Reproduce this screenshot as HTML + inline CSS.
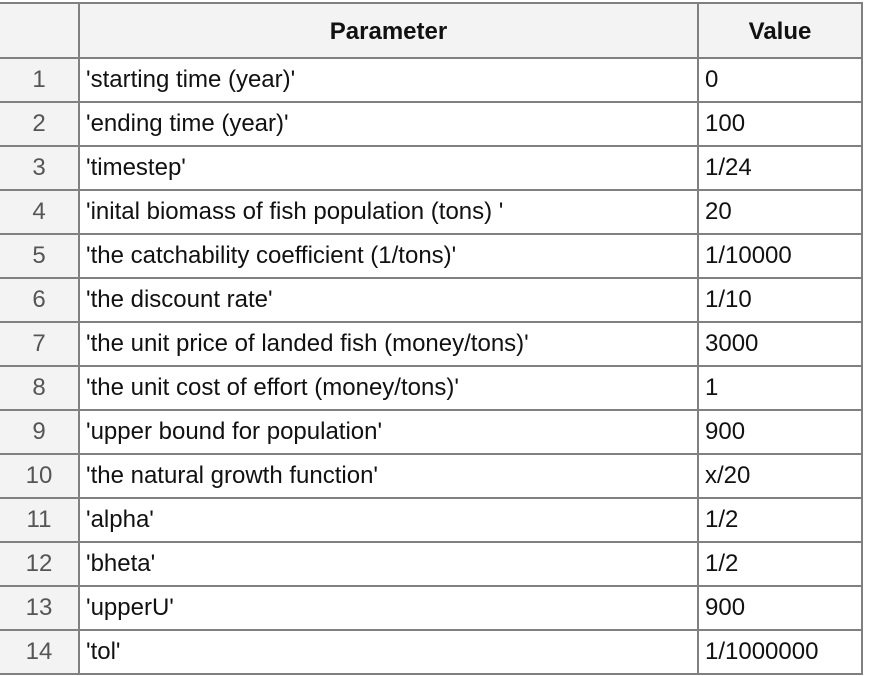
<!DOCTYPE html>
<html><head><meta charset="utf-8"><style>
body{margin:0;width:872px;height:676px;background:#fff;overflow:hidden;font-family:"Liberation Sans",Arial,sans-serif;}
table{position:absolute;left:-2px;top:2px;border-collapse:collapse;width:863px;table-layout:fixed;}
td,th{border:2px solid #808080;font-size:24px;color:#111;height:42px;padding:0 0 0 6px;box-sizing:border-box;overflow:hidden;white-space:nowrap;}
tr{height:44px;}
thead tr{height:55px;}
th{background:#f3f3f3;font-weight:bold;text-align:center;padding:2px 0 0 0;}
td.idx{background:#f3f3f3;color:#555;text-align:center;padding:0;}
</style></head><body>
<table>
<colgroup><col style="width:80px"><col style="width:619px"><col style="width:164px"></colgroup>
<thead><tr><th class="idx"></th><th>Parameter</th><th>Value</th></tr></thead>
<tbody id="tb"></tbody></table>
<script>
const params=["'starting time (year)'","'ending time (year)'","'timestep'","'inital biomass of fish population (tons) '","'the catchability coefficient (1/tons)'","'the discount rate'","'the unit price of landed fish (money/tons)'","'the unit cost of effort (money/tons)'","'upper bound for population'","'the natural growth function'","'alpha'","'bheta'","'upperU'","'tol'"];
const values=["0","100","1/24","20","1/10000","1/10","3000","1","900","x/20","1/2","1/2","900","1/1000000"];
const tb=document.getElementById('tb');
params.forEach((p,i)=>{
const tr=document.createElement('tr');


const a=document.createElement('td');a.className='idx';a.textContent=i+1;


const b=document.createElement('td');b.textContent=p;


const c=document.createElement('td');c.textContent=values[i];


tr.append(a,b,c);tb.appendChild(tr);
});
</script>
</body></html>
